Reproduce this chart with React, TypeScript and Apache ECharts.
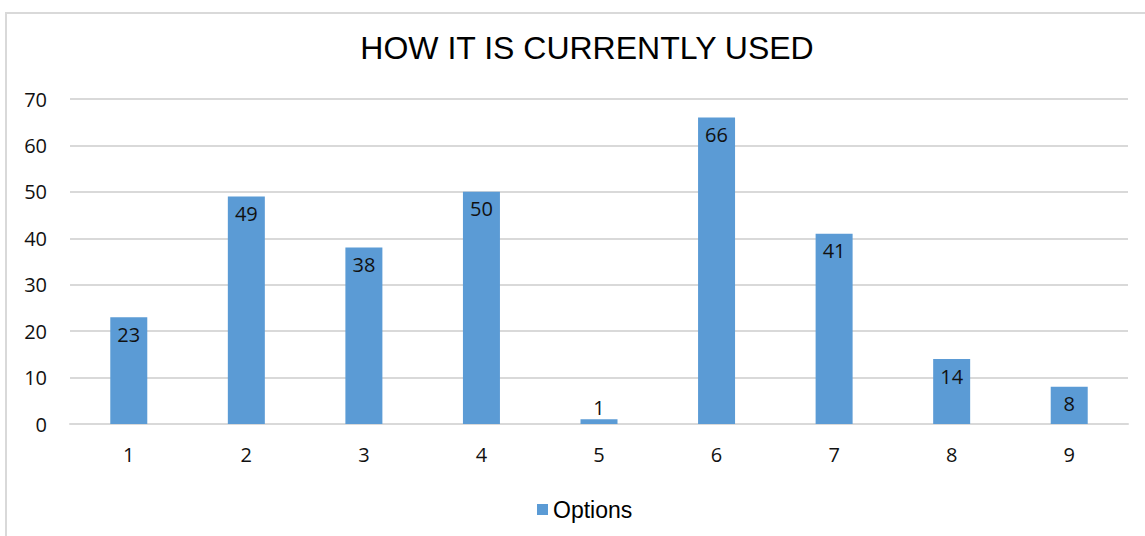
import React, { useEffect, useRef } from "react";
import * as echarts from "echarts";

const categories = ["1", "2", "3", "4", "5", "6", "7", "8", "9"];
const optionValues = [23, 49, 38, 50, 1, 66, 41, 14, 8];
const yTicks = { min: 0, max: 70, interval: 10 };
const titleText = "HOW IT IS CURRENTLY USED";
const seriesName = "Options";

export default function App() {
  const ref = useRef<HTMLDivElement>(null);
  useEffect(() => {
    if (!ref.current) return;
    const chart = echarts.init(ref.current, null, { renderer: "svg" });
    chart.setOption({
      animation: false,
      backgroundColor: "#ffffff",
      graphic: [
        {
          type: "rect",
          shape: { x: 6, y: 13, width: 1300, height: 700 },
          style: { fill: "none", stroke: "#d9d9d9", lineWidth: 2 },
          silent: true,
        },
      ],
      title: {
        text: titleText,
        left: 582,
        textAlign: "center",
        top: 27,
        textStyle: {
          fontFamily: "Liberation Sans",
          fontSize: 32,
          fontWeight: "normal",
          color: "#000000",
        },
      },
      legend: {
        data: [seriesName],
        left: 532,
        top: 493,
        icon: "rect",
        itemWidth: 11,
        itemHeight: 11,
        itemGap: 4,
        textStyle: {
          fontFamily: "Liberation Sans",
          fontSize: 23,
          color: "#000000",
          padding: [0, 0, 0, 0],
        },
      },
      grid: { left: 70, right: 17, top: 99, bottom: 112 },
      xAxis: {
        type: "category",
        data: categories,
        axisTick: { show: false },
        axisLine: { lineStyle: { color: "#d9d9d9", width: 2 } },
        axisLabel: {
          fontFamily: "Open Sans",
          fontSize: 20,
          color: "#111111",
          margin: 20,
        },
      },
      yAxis: {
        type: "value",
        min: yTicks.min,
        max: yTicks.max,
        interval: yTicks.interval,
        axisLine: { show: false },
        axisTick: { show: false },
        splitLine: { lineStyle: { color: "#d9d9d9", width: 2 } },
        axisLabel: {
          fontFamily: "Open Sans",
          fontSize: 20,
          color: "#111111",
          margin: 23,
        },
      },
      series: [
        {
          name: seriesName,
          type: "bar",
          barWidth: 37,
          itemStyle: { color: "#5b9bd5" },
          data: optionValues.map((v) => ({
            value: v,
            label: v < 5 ? { position: "top", distance: 2 } : undefined,
          })),
          label: {
            show: true,
            position: "insideTop",
            distance: 7,
            fontFamily: "Open Sans",
            fontSize: 20,
            color: "#111111",
          },
        },
      ],
    });
    return () => chart.dispose();
  }, []);
  return (
    <div
      ref={ref}
      style={{ position: "absolute", left: 0, top: 0, width: 1145, height: 536 }}
    />
  );
}
